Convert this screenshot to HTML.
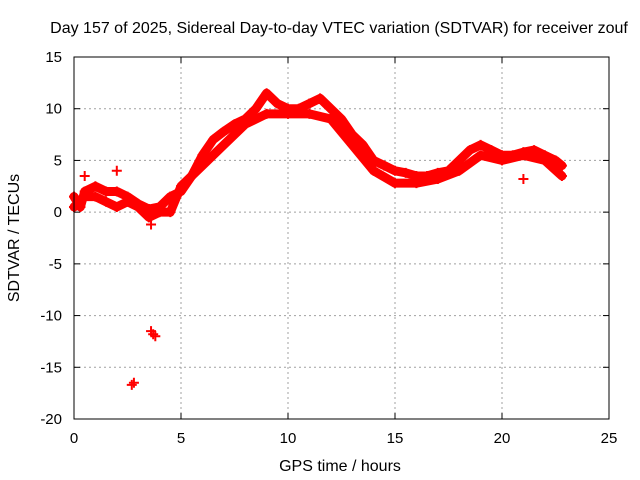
<!DOCTYPE html>
<html><head><meta charset="utf-8"><style>
body{margin:0;background:#fff}
svg{display:block;font-family:"Liberation Sans",sans-serif}
</style></head><body>
<svg id="chart" width="640" height="480">
<text x="339" y="33" text-anchor="middle" font-size="16">Day 157 of 2025, Sidereal Day-to-day VTEC variation (SDTVAR) for receiver zouf</text>
<text x="340" y="471" text-anchor="middle" font-size="16">GPS time / hours</text>
<text transform="translate(19,238) rotate(-90)" text-anchor="middle" font-size="16">SDTVAR / TECUs</text>
<g id="grid"></g><g id="marks"></g><g id="axes"></g>
</svg>
<script>
const xTicks=[0,5,10,15,20,25];
const yTicks=[15,10,5,0,-5,-10,-15,-20];
const upperHours=[0,0.3,0.5,1,1.5,2,2.5,3,3.5,4,4.5,5,5.5,6,6.5,7,7.5,8,8.5,9,9.5,10,10.5,11,11.5,12,12.5,13,13.5,14,14.5,15,15.5,16,16.5,17,17.5,18,18.5,19,19.5,20,20.5,21,21.5,22,22.5,22.8];
const upperValues=[1.5,0.5,2,2.5,2,2,1.5,0.8,0.3,0.5,1.5,2,3.5,5.5,7,7.8,8.5,9,10,11.5,10.5,10,10,10.5,11,10,9,7.5,6.5,5,4.5,4,3.8,3.5,3.5,3.8,4,5,6,6.5,6,5.5,5.5,5.8,6,5.5,5,4.5];
const lowerHours=[0,0.5,1,1.5,2,2.5,3,3.5,4,4.5,5,6,7,8,9,10,11,12,13,14,15,16,17,18,19,20,21,22,22.8];
const lowerValues=[0.5,1.5,1.5,1,0.5,1,0.5,-0.5,0,0,2.5,4.5,6.5,8.5,9.5,9.5,9.5,9,6.5,4,2.8,2.8,3.2,4,5.5,5,5.5,5,3.5];
const outlierHours=[2.7,2.8,3.6,3.7,3.8,21,3.6,0.5,2];
const outlierValues=[-16.7,-16.5,-11.5,-11.8,-12,3.2,-1.2,3.5,4];
const X0=74,X1=609,Y0=419,Y1=57;
const sx=h=>X0+(h-0)/25*(X1-X0);
const sy=v=>Y0-(v+20)/35*(Y0-Y1);
const NS="http://www.w3.org/2000/svg";
function mk(t,a,p){const e=document.createElementNS(NS,t);for(const k in a)e.setAttribute(k,a[k]);p.appendChild(e);return e;}
const grid=document.getElementById('grid'),axes=document.getElementById('axes'),marks=document.getElementById('marks');
xTicks.forEach(t=>{
 const x=sx(t);
 if(t>0&&t<25){const g=mk('line',{x1:x,x2:x,y1:Y1,y2:Y0,stroke:'#a0a0a0','stroke-dasharray':'2,3'},grid);
 }
 const l=mk('text',{x:x,y:Y0+24,'text-anchor':'middle','font-size':15},axes);l.textContent=t;
 
 mk('line',{x1:x,x2:x,y1:Y0,y2:Y0-6,stroke:'#000'},axes);mk('line',{x1:x,x2:x,y1:Y1,y2:Y1+6,stroke:'#000'},axes);
});
yTicks.forEach(t=>{
 const y=sy(t);
 if(t>-20&&t<15){const g=mk('line',{x1:X0,x2:X1,y1:y,y2:y,stroke:'#a0a0a0','stroke-dasharray':'2,3'},grid);
 }
 const l=mk('text',{x:X0-12,y:y+5,'text-anchor':'end','font-size':15},axes);l.textContent=t;
 
 mk('line',{x1:X0,x2:X0+6,y1:y,y2:y,stroke:'#000'},axes);mk('line',{x1:X1,x2:X1-6,y1:y,y2:y,stroke:'#000'},axes);
});
const frame=mk('rect',{x:X0,y:Y1,width:X1-X0,height:Y0-Y1,fill:'none',stroke:'#000'},axes);

function band(hs,vs,name){
 const pts=hs.map((h,i)=>sx(h)+','+sy(vs[i])).join(' ');
 const p=mk('polyline',{points:pts,fill:'none',stroke:'#ff0000','stroke-width':9,'stroke-linejoin':'round','stroke-linecap':'round'},marks);
 
 hs.forEach((h,i)=>plus(h,vs[i]));
}
function plus(h,v){
 const x=sx(h),y=sy(v);
 const m=mk('path',{d:`M${x-5},${y}H${x+5}M${x},${y-5}V${y+5}`,stroke:'#ff0000','stroke-width':2},marks);
 
}
band(upperHours,upperValues,'upper-band');
band(lowerHours,lowerValues,'lower-band');
outlierHours.forEach((h,i)=>plus(h,outlierValues[i]));
</script>
</body></html>
